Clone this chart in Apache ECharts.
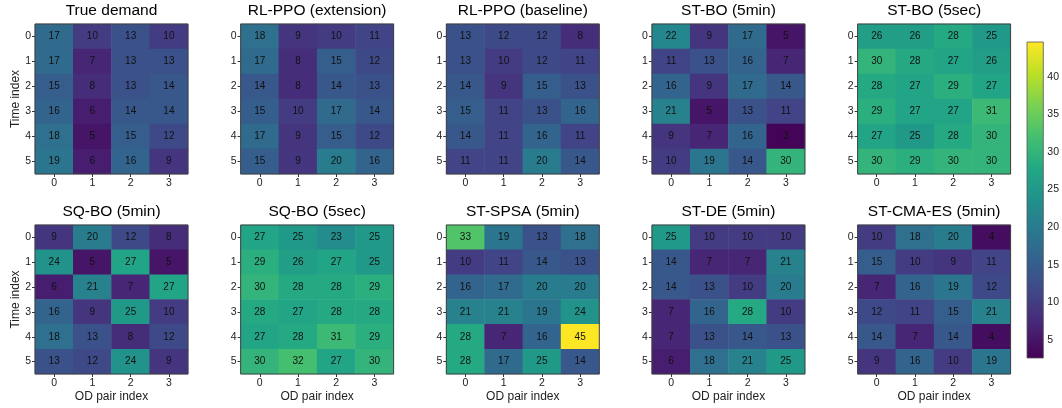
<!DOCTYPE html>
<html>
<head>
<meta charset="utf-8">
<script src="https://cdn.jsdelivr.net/npm/echarts@6/dist/echarts.min.js"></script>
<style>
  html, body { margin: 0; padding: 0; background: #fff; }
  #chart { width: 1062px; height: 408px; }
</style>
</head>
<body>
<div id="chart"></div>
<script>
// Demand matrices: rows = time index 0..5, columns = OD pair index 0..3
const odPairs = ['0', '1', '2', '3'];
const timeSteps = ['0', '1', '2', '3', '4', '5'];

const trueDemand = [[17,10,13,10],[17,7,13,13],[15,8,13,14],[16,6,14,14],[18,5,15,12],[19,6,16,9]];
const rlPpoExtension = [[18,9,10,11],[17,8,15,12],[14,8,14,13],[15,10,17,14],[17,9,15,12],[15,9,20,16]];
const rlPpoBaseline = [[13,12,12,8],[13,10,12,11],[14,9,15,13],[15,11,13,16],[14,11,16,11],[11,11,20,14]];
const stBo5min = [[22,9,17,5],[11,13,16,7],[16,9,17,14],[21,5,13,11],[9,7,16,3],[10,19,14,30]];
const stBo5sec = [[26,26,28,25],[30,28,27,26],[28,27,29,27],[29,27,27,31],[27,25,28,30],[30,29,30,30]];
const sqBo5min = [[9,20,12,8],[24,5,27,5],[6,21,7,27],[16,9,25,10],[18,13,8,12],[13,12,24,9]];
const sqBo5sec = [[27,25,23,25],[29,26,27,25],[30,28,28,29],[28,27,28,28],[27,28,31,29],[30,32,27,30]];
const stSpsa5min = [[33,19,13,18],[10,11,14,13],[16,17,20,20],[21,21,19,24],[28,7,16,45],[28,17,25,14]];
const stDe5min = [[25,10,10,10],[14,7,7,21],[14,13,10,20],[7,16,28,10],[7,13,14,13],[6,18,21,25]];
const stCmaEs5min = [[10,18,20,4],[15,10,9,11],[7,16,19,12],[12,11,15,21],[14,7,14,4],[9,16,10,19]];

const panelTitles = ['True demand', 'RL-PPO (extension)', 'RL-PPO (baseline)', 'ST-BO (5min)', 'ST-BO (5sec)',
                     'SQ-BO (5min)', 'SQ-BO (5sec)', 'ST-SPSA (5min)', 'ST-DE (5min)', 'ST-CMA-ES (5min)'];
const panelData = [trueDemand, rlPpoExtension, rlPpoBaseline, stBo5min, stBo5sec,
                   sqBo5min, sqBo5sec, stSpsa5min, stDe5min, stCmaEs5min];

const colorMin = 2.6, colorMax = 44.6;
const colorbarTicks = [5, 10, 15, 20, 25, 30, 35, 40];
const viridis = ['#440154','#482475','#414487','#355f8d','#2a788e','#21918c',
                 '#22a884','#44bf70','#7ad151','#bddf26','#fde725'];

const FONT = 'Liberation Sans, Arial, Helvetica, sans-serif';

// Panel layout
const panelLeft0 = 35, panelStep = 205.65, panelW = 153;
const rowTop = [24, 225], rowH = [150, 149];

const grids = [], xAxes = [], yAxes = [], series = [], titles = [];

panelData.forEach((mat, i) => {
  const row = Math.floor(i / 5), col = i % 5;
  const left = panelLeft0 + col * panelStep;
  grids.push({
    left: left, top: rowTop[row], width: panelW, height: rowH[row],
    show: true, borderColor: '#404040', borderWidth: 1, backgroundColor: 'transparent', z: 10
  });
  titles.push({
    text: panelTitles[i], left: left + panelW / 2, top: row === 0 ? 3 : 204,
    textAlign: 'center', padding: 0,
    textStyle: { fontFamily: FONT, fontSize: 15.5, fontWeight: 'normal', color: '#000' }
  });
  xAxes.push({
    type: 'category', gridIndex: i, data: odPairs, position: 'bottom',
    axisLine: { show: false },
    axisTick: { show: true, alignWithLabel: true, length: 3, lineStyle: { color: '#333' } },
    axisLabel: { fontFamily: FONT, fontSize: 10.5, color: '#222', margin: 4 },
    splitLine: { show: false },
    name: row === 1 ? 'OD pair index' : '', nameLocation: 'middle', nameGap: 17,
    nameTextStyle: { fontFamily: FONT, fontSize: 12, color: '#222' }
  });
  yAxes.push({
    type: 'category', gridIndex: i, data: timeSteps, inverse: true,
    axisLine: { show: false },
    axisTick: { show: true, alignWithLabel: true, length: 3, lineStyle: { color: '#333' } },
    axisLabel: { fontFamily: FONT, fontSize: 10.5, color: '#222', margin: 4 },
    splitLine: { show: false },
    name: col === 0 ? 'Time index' : '', nameLocation: 'middle', nameGap: 12, nameRotate: 90,
    nameTextStyle: { fontFamily: FONT, fontSize: 12, color: '#222' }
  });
  const cells = [];
  mat.forEach((r, y) => r.forEach((v, x) => cells.push([x, y, v])));
  series.push({
    type: 'heatmap', xAxisIndex: i, yAxisIndex: i, data: cells,
    label: { show: true, fontFamily: FONT, fontSize: 10, color: '#111' },
    itemStyle: { borderWidth: 0 },
    emphasis: { disabled: true }
  });
});

// Colorbar axis
const cbIndex = panelData.length;
grids.push({ left: 1027, top: 42, width: 17, height: 316, show: true,
             borderColor: '#555', borderWidth: 0.8, backgroundColor: 'transparent', z: 10 });
xAxes.push({ type: 'value', gridIndex: cbIndex, min: 0, max: 1, show: false });
yAxes.push({
  type: 'value', gridIndex: cbIndex, min: colorMin, max: colorMax, position: 'right',
  axisLine: { show: false },
  axisTick: { show: true, length: 3, customValues: colorbarTicks, lineStyle: { color: '#333' } },
  axisLabel: { fontFamily: FONT, fontSize: 10.5, color: '#222', margin: 4, customValues: colorbarTicks },
  splitLine: { show: false }
});
series.push({
  type: 'custom', xAxisIndex: cbIndex, yAxisIndex: cbIndex, silent: true,
  data: [[0, colorMax, 1, colorMin]],
  renderItem: function (params, api) {
    const p0 = api.coord([api.value(0), api.value(1)]);
    const p1 = api.coord([api.value(2), api.value(3)]);
    const stops = viridis.map((c, k) => ({ offset: 1 - k / (viridis.length - 1), color: c }));
    stops.reverse();
    return {
      type: 'rect',
      shape: { x: p0[0], y: p0[1], width: p1[0] - p0[0], height: p1[1] - p0[1] },
      style: { fill: new echarts.graphic.LinearGradient(0, 0, 0, 1, stops) }
    };
  }
});

const chart = echarts.init(document.getElementById('chart'), null, { renderer: 'canvas' });
chart.setOption({
  animation: false,
  backgroundColor: '#fff',
  title: titles,
  grid: grids,
  xAxis: xAxes,
  yAxis: yAxes,
  visualMap: {
    type: 'continuous', show: false, min: colorMin, max: colorMax,
    seriesIndex: panelData.map((_, i) => i),
    inRange: { color: viridis }
  },
  series: series
});
</script>
</body>
</html>
